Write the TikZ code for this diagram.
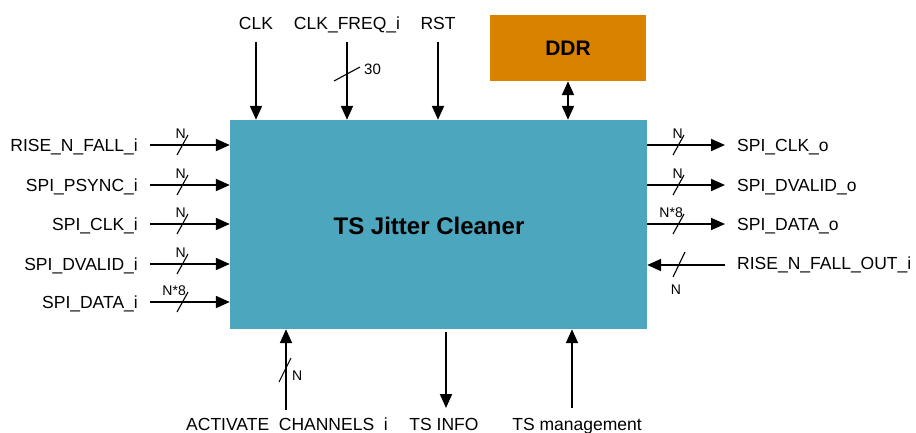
\documentclass[tikz,border=0pt]{standalone}
\usepackage{fontspec}
\setmainfont{Liberation Sans}
\usetikzlibrary{arrows.meta}

\definecolor{jcteal}{HTML}{4BA6BE}
\definecolor{ddrorange}{HTML}{D98200}

\tikzset{
  wire/.style={line width=2pt, -{Triangle[length=14pt,width=12pt]}},
  slash/.style={line width=1.1pt},
  sig/.style={inner sep=0pt, font=\fontsize{17.5}{19}\selectfont},
  bw/.style={inner sep=0pt, font=\fontsize{14}{16}\selectfont},
}

\begin{document}
\begin{tikzpicture}[x=1pt, y=-1pt]
\useasboundingbox (0,0) rectangle (916,432);

% blocks
\node[fill=jcteal, minimum width=417pt, minimum height=209pt, inner sep=0pt] (tjc) at (438.5,224.5) {};
\node[inner sep=0pt, font=\bfseries\fontsize{24}{26}\selectfont] (title) at (429,226) {TS Jitter Cleaner};
\node[fill=ddrorange, minimum width=156pt, minimum height=66pt, inner sep=0pt,
      font=\bfseries\fontsize{21}{24}\selectfont] (ddr) at (568,48) {DDR};

\draw[line width=2pt, {Triangle[length=14pt,width=12pt]}-{Triangle[length=14pt,width=12pt]}]
  (ddr.south) -- (ddr.south |- tjc.north);

% inputs on the left
\foreach \nm/\yy/\w [count=\i] in {RISE\_N\_FALL\_i/145/N, SPI\_PSYNC\_i/185/N,
    SPI\_CLK\_i/224/N, SPI\_DVALID\_i/264/N, SPI\_DATA\_i/302/N*8}{
  \node[sig, anchor=base east] (in\i) at (138,\yy+6) {\nm};
  \draw[wire] ([xshift=12pt]in\i.east |- 0,\yy) -- (tjc.west |- 0,\yy);
  \draw[slash] (177,\yy+10) -- (188,\yy-10);
  \node[bw, anchor=base east] (inw\i) at (186,\yy-7) {\w};
}

% outputs on the right
\foreach \nm/\yy/\w [count=\i] in {SPI\_CLK\_o/145/N, SPI\_DVALID\_o/185/N,
    SPI\_DATA\_o/224/N*8}{
  \node[sig, anchor=base west] (out\i) at (737,\yy+6) {\nm};
  \draw[wire] (tjc.east |- 0,\yy) -- ([xshift=-12pt]out\i.west |- 0,\yy);
  \draw[slash] (673,\yy+10) -- (684,\yy-10);
  \node[bw, anchor=base east] (outw\i) at (683,\yy-7) {\w};
}
\node[sig, anchor=base west] (rnfo) at (737,269) {RISE\_N\_FALL\_OUT\_i};
\draw[wire] ([xshift=-12pt]rnfo.west |- 0,265) -- (tjc.east |- 0,265);
\draw[slash] (673,277) -- (685,252);
\node[bw, anchor=base] (rnfow) at (676,294) {N};

% top
\node[sig, anchor=base] (clk) at (256,29) {CLK};
\node[sig, anchor=base] (clkf) at (347,29) {CLK\_FREQ\_i};
\node[sig, anchor=base] (rst) at (438,29) {RST};
\foreach \t in {clk, clkf, rst}
  \draw[wire] ([yshift=-13pt]\t.base) -- (\t.base |- tjc.north);
\draw[slash] (334,81) -- (360,67);
\node[bw, anchor=base west, font=\fontsize{15}{17}\selectfont] (clkfw) at (364,74) {30};

% bottom
\node[sig, anchor=base] (act) at (287,430) {ACTIVATE\ \ CHANNELS\ \ i};
\node[sig, anchor=base] (info) at (444,430) {TS INFO};
\node[sig, anchor=base] (mgmt) at (577,430) {TS management};
\coordinate (actp) at (286,410);
\coordinate (infop) at (446,408);
\coordinate (mgmtp) at (572,408);
\draw[wire] (actp) -- (actp |- tjc.south);
\draw[wire] ([yshift=-3pt]infop |- tjc.south) -- (infop);
\draw[wire] (mgmtp) -- (mgmtp |- tjc.south);
\draw[slash] (279,382) -- (291,358);
\node[bw, anchor=base west] (actw) at (292,380) {N};

\end{tikzpicture}
\end{document}
